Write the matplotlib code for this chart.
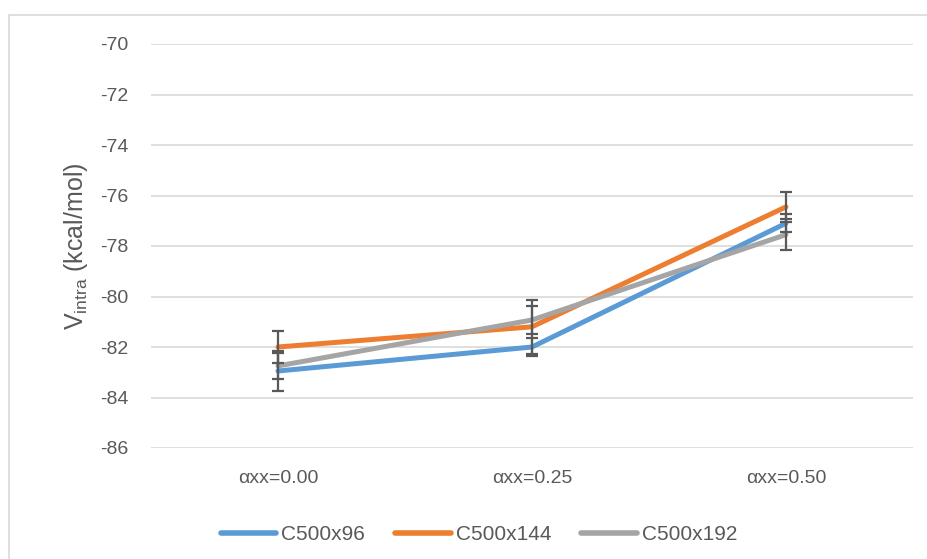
import matplotlib
matplotlib.use("Agg")
import matplotlib.pyplot as plt
from matplotlib.patches import Rectangle

plt.rcParams['font.family'] = ['Liberation Sans', 'DejaVu Sans']
plt.rcParams['mathtext.default'] = 'regular'

categories = ["αxx=0.00", "αxx=0.25", "αxx=0.50"]
series_names = ["C500x96", "C500x144", "C500x192"]
c500x96 = [-82.95, -82.0, -77.1]
c500x144 = [-82.0, -81.2, -76.45]
c500x192 = [-82.75, -80.93, -77.55]
err_c500x96 = [0.78, 0.36, 0.36]
err_c500x144 = [0.63, 1.08, 0.6]
err_c500x192 = [0.5, 0.54, 0.6]
y_ticks = [-86, -84, -82, -80, -78, -76, -74, -72, -70]

colors = ["#5B9BD5", "#ED7D31", "#A5A5A5"]
text_color = "#595959"

fig = plt.figure(figsize=(9.27, 5.59), dpi=100)
# chart-area border (right/bottom edges run off the canvas)
fig.patches.append(Rectangle((9 / 927, -0.1), 1.2, (559 - 15) / 559 + 0.1,
                             transform=fig.transFigure, fill=False,
                             edgecolor="#D9D9D9", linewidth=1.2))

ax = fig.add_axes([151 / 927, (559 - 448) / 559, 762 / 927, 404 / 559])
x = list(range(len(categories)))

for vals, errs, name, col in zip([c500x96, c500x144, c500x192],
                                 [err_c500x96, err_c500x144, err_c500x192],
                                 series_names, colors):
    ax.plot(x, vals, color=col, lw=3.6, solid_capstyle="round", label=name, zorder=3)
    ax.errorbar(x, vals, yerr=errs, fmt="none", ecolor="#595959",
                elinewidth=1.6, capsize=4.4, capthick=1.6, zorder=4)

ax.set_xlim(-0.5, 2.5)
ax.set_ylim(-86, -70)
ax.set_yticks(y_ticks)
ax.set_yticklabels([str(t) for t in y_ticks])
ax.set_xticks(x)
ax.set_xticklabels(categories)
ax.grid(axis="y", color="#D9D9D9", lw=1.2)
ax.set_axisbelow(True)
for s in ax.spines.values():
    s.set_visible(False)
ax.tick_params(length=0, colors=text_color, labelsize=14)
ax.tick_params(axis="y", pad=16.5)
ax.tick_params(axis="x", pad=16)
ax.set_ylabel(r"V$_{intra}$ (kcal/mol)", fontsize=18, color=text_color, labelpad=7)

leg = fig.legend(loc="center", bbox_to_anchor=(479 / 927, (559 - 535) / 559),
                 ncol=3, frameon=False, fontsize=15, handlelength=2.65,
                 handletextpad=0.25, columnspacing=1.45)
for t in leg.get_texts():
    t.set_color(text_color)
for h in leg.get_lines():
    h.set_linewidth(4)
    h.set_solid_capstyle("round")

fig.savefig("out.png", dpi=100)
